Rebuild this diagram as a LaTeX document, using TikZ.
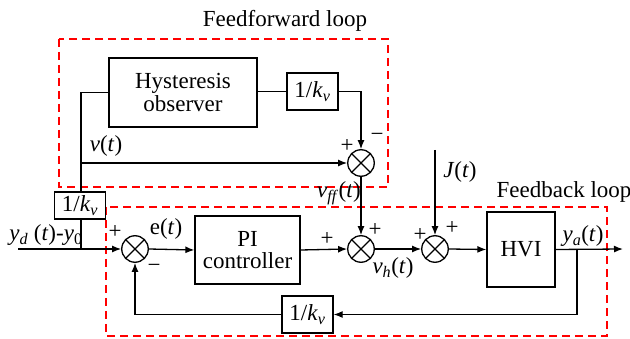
\documentclass[tikz,border=0pt]{standalone}
\usepackage{fontspec}
\setmainfont{LiberationSerif}[Extension=.ttf,UprightFont=*-Regular,ItalicFont=*-Italic,BoldFont=*-Bold,BoldItalicFont=*-BoldItalic]
\usetikzlibrary{arrows.meta}
\newcommand\iv[1]{\textit{#1}}
\newcommand\sbi[1]{\textsubscript{\textit{#1}}}
\newcommand\kvtext{1/\iv{k}\sbi{v}}
\begin{document}
\begin{tikzpicture}[x=1pt,y=-1pt,
  line width=1.3pt,
  font=\fontsize{23}{25}\selectfont,
  blk/.style={draw,line width=1.3pt,inner sep=0pt,align=center},
  sumc/.style={draw,circle,minimum size=26.5pt,inner sep=0pt,line width=1.3pt},
  sig/.style={-{Latex[length=9pt,width=7pt]}},
  loopbox/.style={draw=red,dashed,dash pattern=on 8pt off 5pt,line width=1.4pt},
  lbl/.style={inner sep=0pt}]
\useasboundingbox (0,0) rectangle (630,339);
% dashed loop boxes
\draw[loopbox] (59,39) rectangle (388,187);
\draw[loopbox] (106,207) rectangle (607,336);
\node[lbl] (fflab) at (285,21) {Feedforward loop};
\node[lbl] (fblab) at (564,192) {Feedback loop};
% blocks
\node[blk,minimum width=148pt,minimum height=69pt] (hyst) at (183,92.5) {Hysteresis\\[-3pt]observer};
\node[blk,minimum width=51pt,minimum height=37pt] (kv1) at (312.5,91.5) {\kvtext};
\node[blk,minimum width=51pt,minimum height=27pt] (kv2) at (80,205.5) {\kvtext};
\node[blk,minimum width=51pt,minimum height=37pt] (kv3) at (307.5,314.5) {\kvtext};
\node[blk,minimum width=105pt,minimum height=68pt] (pi) at (247.5,250) {PI\\[-3pt]controller};
\node[blk,minimum width=68pt,minimum height=75pt] (hvi) at (521,249.5) {HVI};
% summing junctions
\node[sumc] (sff) at (361,163) {};
\node[sumc] (s1) at (135,249) {};
\node[sumc] (s2) at (361,249) {};
\node[sumc] (s3) at (435,249) {};
\foreach \s in {sff,s1,s2,s3}{
  \draw[line width=1.1pt] (\s.45) -- (\s.225) (\s.135) -- (\s.-45);}
% coordinates
\coordinate (in) at (18,249);
\coordinate (tap) at (81,249);
\coordinate (jin) at (435,150);
\coordinate (out) at (623,249);
\coordinate (br) at (577,249);
% connectors
\draw[sig] (in) -- (s1.west);
\draw (tap) -- (tap |- kv2.south);
\draw (tap |- kv2.north) -- (tap |- hyst.west) -- (hyst.west);
\draw[sig] (tap |- sff.west) -- (sff.west);
\draw (hyst.east |- kv1.west) -- (kv1.west);
\draw[sig] (kv1.east) -| (sff.north);
\draw[sig] (sff.south) -- (s2.north);
\draw[sig] (s1.east) -- (pi.west);
\draw[sig] (pi.east) -- (s2.west);
\draw[sig] (s2.east) -- (s3.west);
\draw[sig] (jin) -- (s3.north);
\draw[sig] (s3.east) -- (hvi.west);
\draw[sig] (hvi.east) -- (out);
\draw[sig] (br) |- (kv3.east);
\draw[sig] (kv3.west) -| (s1.south);
% labels
\node[lbl] (pff) at (347,146) {+};
\node[lbl] (mff) at (377,137) {\textminus};
\node[lbl] (vt) at (106,146) {\iv{v}(\iv{t})};
\node[lbl] (vff) at (339,193) {\iv{v}\sbi{ff}(\iv{t})};
\node[lbl] (yd) at (46,235) {\iv{y}\sbi{d} (\iv{t})-\iv{y}\textsubscript{0}};
\node[lbl] (p1) at (115,232) {+};
\node[lbl] (m1) at (154,268) {\textminus};
\node[lbl] (et) at (166,229) {e(\iv{t})};
\node[lbl] (p2a) at (327,239) {+};
\node[lbl] (p2b) at (375,230) {+};
\node[lbl] (vh) at (393,268) {\iv{v}\sbi{h}(\iv{t})};
\node[lbl] (p3a) at (420,235) {+};
\node[lbl] (p3b) at (452,228) {+};
\node[lbl] (jt) at (460,172) {\iv{J}(\iv{t})};
\node[lbl] (ya) at (583,236) {\iv{y}\sbi{a}(\iv{t})};
\end{tikzpicture}
\end{document}
